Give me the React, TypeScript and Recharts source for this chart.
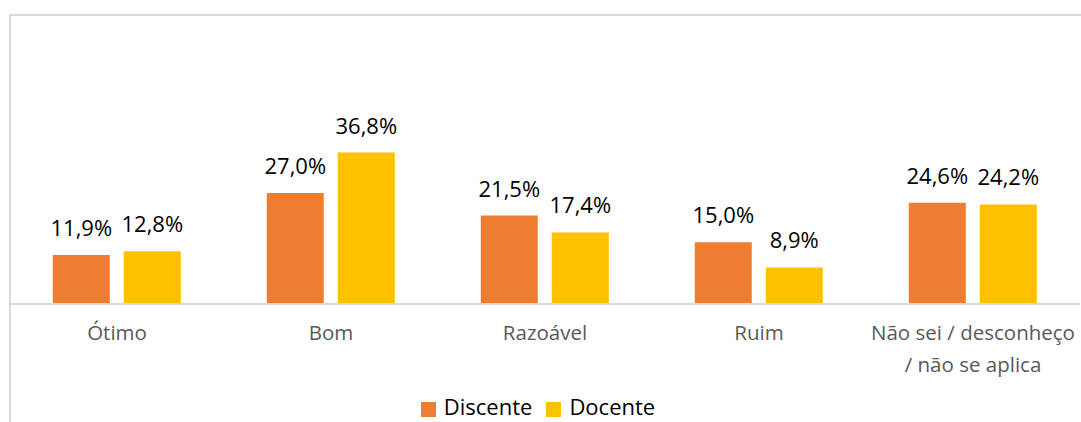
import { BarChart, Bar, XAxis, YAxis, Legend, LabelList } from 'recharts'

const categories = ['Ótimo', 'Bom', 'Razoável', 'Ruim', 'Não sei / desconheço / não se aplica']
const discente = [11.9, 27.0, 21.5, 15.0, 24.6]
const docente = [12.8, 36.8, 17.4, 8.9, 24.2]
const tickLines: Record<string, string[]> = {
  'Não sei / desconheço / não se aplica': ['Não sei / desconheço', '/ não se aplica'],
}

const data = categories.map((c, i) => ({
  name: c,
  Discente: discente[i],
  Docente: docente[i],
}))

const fmt = (v: any) => `${Number(v).toFixed(1).replace('.', ',')}%`
const font = '"Open Sans", sans-serif'

const Tick = ({ x, y, payload }: any) => {
  const lines = tickLines[payload.value] ?? [payload.value]
  return (
    <text x={x} y={y} textAnchor="middle" fill="#595959" fontSize={20.5} fontFamily={font}>
      {lines.map((l, i) => (
        <tspan key={i} x={x} dy={i === 0 ? 28 : 32}>
          {l}
        </tspan>
      ))}
    </text>
  )
}

export default function App() {
  return (
    <div
      style={{
        position: 'absolute',
        left: 0,
        top: 0,
        width: 1081,
        height: 422,
        overflow: 'hidden',
        background: '#fff',
      }}
    >
      <div
        style={{
          position: 'absolute',
          left: 9,
          top: 14,
          width: 1200,
          height: 600,
          border: '2px solid #d9d9d9',
        }}
      />
      <div style={{ position: 'absolute', left: 0, top: 0 }}>
        <BarChart
          width={1081}
          height={422}
          data={data}
          margin={{ top: 16, right: 1, left: 10, bottom: 3 }}
          barCategoryGap="20%"
          barGap={14}
        >
          <XAxis
            dataKey="name"
            axisLine={{ stroke: '#d9d9d9', strokeWidth: 2 }}
            tickLine={false}
            tick={<Tick />}
            interval={0}
            height={89}
          />
          <YAxis hide domain={[0, 70]} />
          <Legend
            verticalAlign="bottom"
            iconType="square"
            iconSize={15}
            wrapperStyle={{ fontFamily: font, fontSize: 22, color: '#000', lineHeight: '26px' }}
            formatter={(v) => (
              <span style={{ color: '#000', paddingLeft: 4, paddingRight: 4 }}>{v}</span>
            )}
          />
          <Bar dataKey="Discente" fill="#ED7D31" isAnimationActive={false}>
            <LabelList dataKey="Discente" position="top" offset={19} formatter={fmt} fill="#000" fontSize={22} fontFamily={font} />
          </Bar>
          <Bar dataKey="Docente" fill="#FFC000" isAnimationActive={false}>
            <LabelList dataKey="Docente" position="top" offset={19} formatter={fmt} fill="#000" fontSize={22} fontFamily={font} />
          </Bar>
        </BarChart>
      </div>
    </div>
  )
}
